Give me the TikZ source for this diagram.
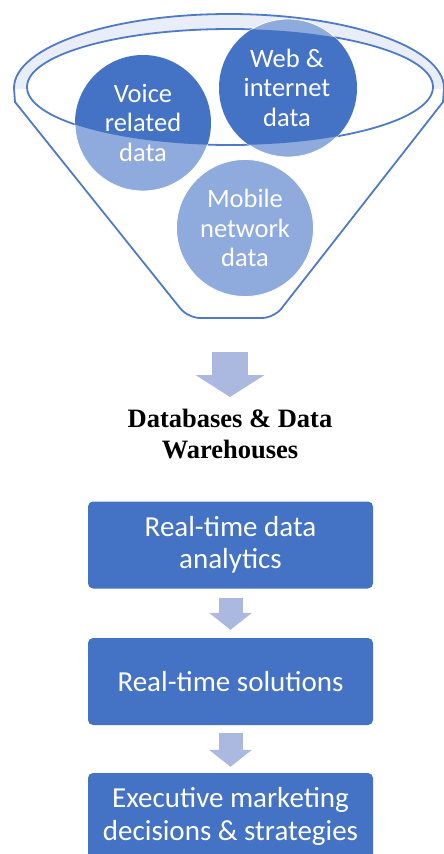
\documentclass[tikz,border=0pt]{standalone}
\usepackage{fontspec}
\setmainfont{Carlito}
\newfontfamily\titlefont{Liberation Serif}
\usetikzlibrary{arrows.meta}
\definecolor{dblue}{RGB}{68,114,196}
\definecolor{lblue}{RGB}{143,170,220}
\definecolor{aBlue}{RGB}{171,185,224}
\definecolor{bandc}{RGB}{232,237,248}
\definecolor{outc}{RGB}{78,122,200}
\begin{document}
\begin{tikzpicture}[x=1pt,y=-1pt,
  outl/.style={draw=outc, line width=1.8pt},
  ctext/.style={text=white, font=\fontsize{26.5}{29.5}\selectfont, align=center, inner sep=0pt},
  boxn/.style={fill=dblue, rounded corners=5pt, minimum width=285pt, minimum height=87pt, text=white, font=\fontsize{29}{32.5}\selectfont, align=center, inner sep=0pt},
  flow/.style={draw=aBlue, line width=24pt, -{Triangle[width=42pt,length=17pt]}},
  bigflow/.style={draw=aBlue, line width=36pt, -{Triangle[width=68pt,length=22pt]}},
  disc/.style={draw=white, line width=0.8pt}
]
\useasboundingbox (0,0) rectangle (444,854);
% funnel rim band
\begin{scope}
  \clip (0,0) rectangle (444,88);
  \fill[bandc, even odd rule] (229,88) ellipse[x radius=215, y radius=74]
                              (230,87) ellipse[x radius=203, y radius=58];
\end{scope}
% funnel outline
\draw[outl] (14,88) arc[start angle=180, end angle=360, x radius=215, y radius=74]
  -- (443,102) [rounded corners=12pt] -- (274,318) -- (188,318) [sharp corners] -- (15,102) -- cycle;
\draw[outl] (230,87) ellipse[x radius=203, y radius=58];
% circles
\fill[lblue, disc] (143,123) circle (68);
\fill[lblue, disc] (288,88) circle (69);
\fill[lblue, disc] (245,228) circle (68.5);
\begin{scope}
  \clip (230,87) ellipse[x radius=203, y radius=58];
  \fill[dblue] (143,123) circle (68);
  \fill[dblue] (288,88) circle (69);
\end{scope}
\node[ctext] (voice) at (143,122.5) {Voice\\related\\data};
\node[ctext] (web) at (287,87.5) {Web \&\\internet\\data};
\node[ctext] (mobile) at (245,228) {Mobile\\network\\data};
% title
\node[font=\titlefont\bfseries\fontsize{26.5}{31}\selectfont, align=center, inner sep=0pt] (db) at (230,434) {Databases \& Data\\Warehouses};
\coordinate (fb) at (230,352);
\coordinate (fe) at (230,397);
\draw[bigflow] (fb) -- (fe);
% boxes
\node[boxn] (b1) at (230.5,545) {Real-time data\\analytics};
\node[boxn] (b2) at (230.5,681.5) {Real-time solutions};
\node[boxn] (b3) at (230.5,816.5) {Executive marketing\\decisions \& strategies};
\draw[flow, shorten <=9pt, shorten >=8pt] (b1) -- (b2);
\draw[flow, shorten <=8pt, shorten >=6pt] (b2) -- (b3);
\end{tikzpicture}
\end{document}
